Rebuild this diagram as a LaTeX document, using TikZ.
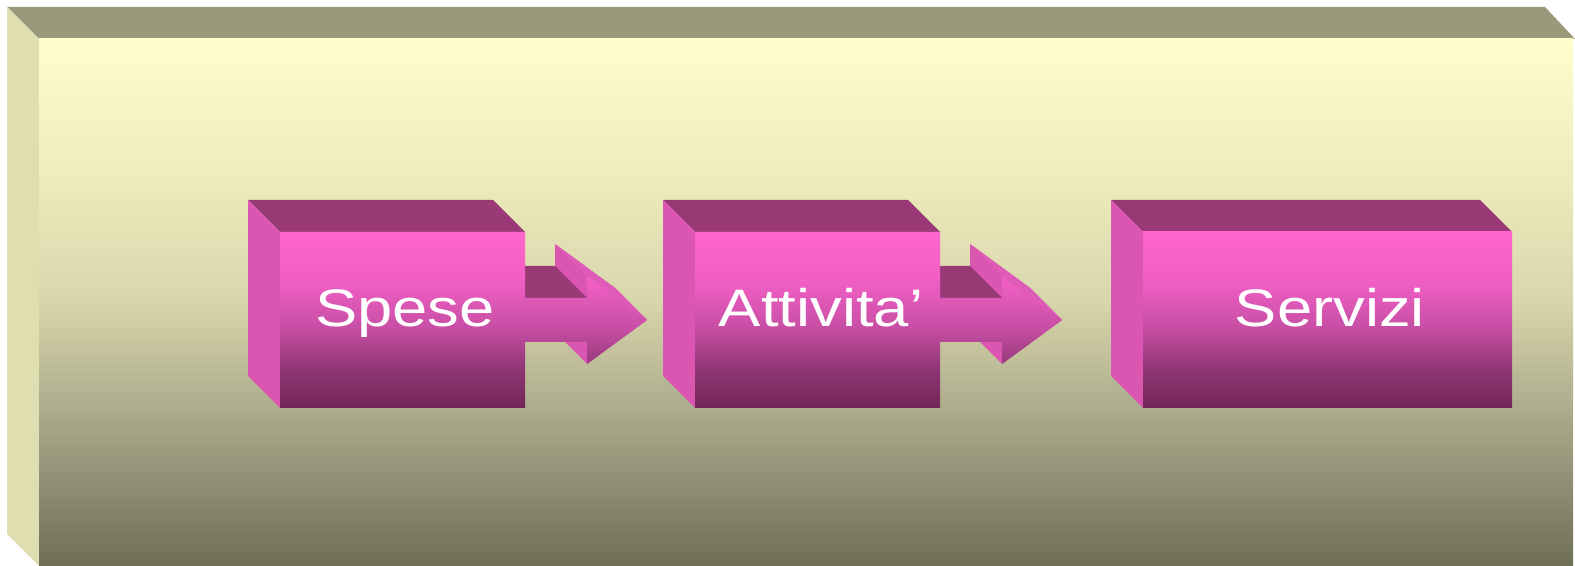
\documentclass[tikz,border=0pt]{standalone}
\usepackage{fontspec}
\setmainfont{Liberation Sans}
\usepackage{tikz}
\definecolor{frametop}{HTML}{9A9A7B}
\definecolor{frameside}{HTML}{DFDEB1}
\definecolor{frameA}{HTML}{FDFDCE}
\definecolor{frameB}{HTML}{EEECBE}
\definecolor{frameC}{HTML}{D7D5AA}
\definecolor{frameD}{HTML}{A9A88A}
\definecolor{frameE}{HTML}{6F6F57}
\definecolor{boxtop}{HTML}{993A77}
\definecolor{boxside}{HTML}{DB56B1}
\definecolor{boxslope}{HTML}{DE5BB7}
\definecolor{boxA}{HTML}{FF66CC}
\definecolor{boxB}{HTML}{EE5EC2}
\definecolor{boxC}{HTML}{C44DA2}
\definecolor{boxD}{HTML}{8E3674}
\definecolor{boxE}{HTML}{722656}
\pgfdeclareverticalshading{frameshade}{100bp}{color(0bp)=(frameE); color(25bp)=(frameE);
  color(39bp)=(frameD); color(50bp)=(frameC); color(62bp)=(frameB); color(75bp)=(frameA); color(100bp)=(frameA)}
\pgfdeclareverticalshading{boxshade}{100bp}{color(0bp)=(boxE); color(25bp)=(boxE);
  color(36bp)=(boxD); color(47bp)=(boxC); color(60bp)=(boxB); color(75bp)=(boxA); color(100bp)=(boxA)}

\begin{document}
\begin{tikzpicture}[x=0.5pt,y=-0.5pt,
topface/.style={fill=boxtop},
sideface/.style={fill=boxside},
frontface/.style={shading=boxshade},
boxtext/.style={text=white,font=\fontsize{26.4}{30}\selectfont,anchor=base,inner sep=0pt}]
\useasboundingbox (0,0) rectangle (1575,566);
% frame
\fill[frametop] (7,7) -- (1545,7) -- (1575,39) -- (39,39) -- cycle;
\fill[frameside] (7,7) -- (39,39) -- (39,566) -- (7,534) -- cycle;
\shade[shading=frameshade] (39,39) rectangle (1573,566);
% boxes
\foreach \l/\r in {280/525, 695/940, 1143/1512} {
  \fill[topface] (\l-32,200) -- (\r-32,200) -- (\r,232) -- (\l,232) -- cycle;
  \fill[sideface] (\l-32,200) -- (\l,232) -- (\l,408) -- (\l-32,376) -- cycle;
}
% arrows
\foreach \r in {525, 940} {
  \fill[sideface] (\r+30,244) -- (\r+90,288) -- (\r+122,320) -- (\r+62,364) -- (\r+30,332) -- cycle;
  \fill[boxslope] (\r+30,244) -- (\r+90,288) -- (\r+122,320) -- (\r+62,276) -- cycle;
  \fill[topface] (\r,266) -- (\r+30,266) -- (\r+62,298) -- (\r,298) -- cycle;
}
\shade[frontface] (280,232) rectangle (525,408) (525,298) -- (587,298) -- (587,276)
  -- (647,320) -- (587,364) -- (587,342) -- (525,342) -- cycle;
\shade[frontface] (695,232) rectangle (940,408) (940,298) -- (1002,298) -- (1002,276)
  -- (1062,320) -- (1002,364) -- (1002,342) -- (940,342) -- cycle;
\shade[frontface] (1143,232) rectangle (1512,408);
% labels
\node[boxtext] (spese) at (405,327) {\scalebox{1.2}[1]{Spese}};
\node[boxtext] (attivita) at (821,327) {\scalebox{1.2}[1]{Attivita’}};
\node[boxtext] (servizi) at (1330,327) {\scalebox{1.2}[1]{Servizi}};
\end{tikzpicture}
\end{document}
